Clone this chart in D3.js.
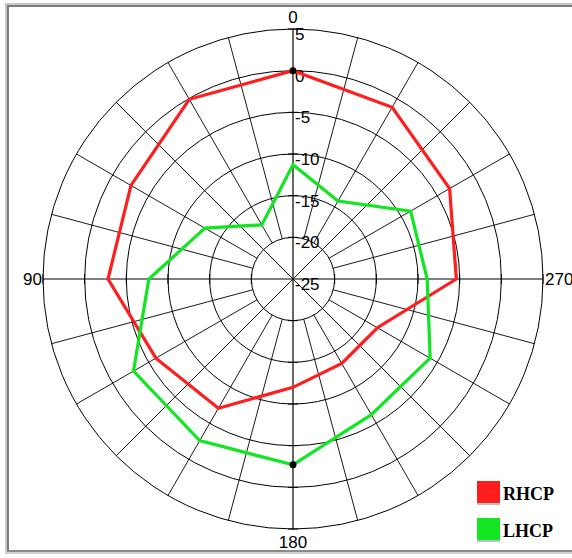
<!DOCTYPE html>
<html>
<head>
<meta charset="utf-8">
<script src="https://cdn.jsdelivr.net/npm/d3@7"></script>
<style>
  html, body { margin: 0; padding: 0; background: #ffffff; }
  svg { display: block; }
</style>
</head>
<body>
<div id="chart"></div>
<script>
// ---- data ----
const angles = [0, 30, 60, 90, 120, 150, 180, 210, 240, 270, 300, 330];
const rhcp = [0.0, -0.1, -2.55, -2.8, -6.0, -7.1, -12.0, -13.3, -13.3, -5.4, -3.3, -1.2];
const lhcp = [-11.3, -17.5, -12.8, -7.7, -2.9, -2.6, -2.7, -6.2, -6.0, -8.9, -8.7, -14.2];
const seriesNames = ["RHCP", "LHCP"];
const seriesColors = ["#ff1e1e", "#12e622"];
const ringValues = [5, 0, -5, -10, -15, -20, -25];
const angleLabels = [0, 90, 180, 270];
const markers = [{ series: "RHCP", angle: 0 }, { series: "LHCP", angle: 180 }];

// ---- layout ----
const W = 572, H = 558;
const cx = 293, cy = 279, R = 250;

const svg = d3.select("#chart").append("svg")
  .attr("width", W).attr("height", H);
svg.append("rect").attr("width", W).attr("height", H).attr("fill", "#fff");

// frame (sunken 3D)
svg.append("rect").attr("x", 5).attr("y", 3).attr("width", 567).attr("height", 2).attr("fill", "#c8c8c8");
svg.append("rect").attr("x", 5).attr("y", 3).attr("width", 2).attr("height", 550).attr("fill", "#c8c8c8");
svg.append("rect").attr("x", 7).attr("y", 5).attr("width", 565).attr("height", 2).attr("fill", "#7c7c7c");
svg.append("rect").attr("x", 7).attr("y", 5).attr("width", 2).attr("height", 545).attr("fill", "#7c7c7c");
svg.append("rect").attr("x", 7).attr("y", 550).attr("width", 565).attr("height", 2).attr("fill", "#8a8a8a");
svg.append("rect").attr("x", 5).attr("y", 552).attr("width", 567).attr("height", 2).attr("fill", "#d0d0d0");

const r = d3.scaleLinear().domain([-25, 5]).range([0, R]);
// angle convention: 0 at top, increasing counter-clockwise
const toRad = a => -a * Math.PI / 180;

const g = svg.append("g").attr("transform", `translate(${cx},${cy})`);

// rings
g.selectAll("circle.ring").data(ringValues.filter(v => v > -25)).enter()
  .append("circle").attr("class", "ring")
  .attr("r", d => r(d)).attr("fill", "none")
  .attr("stroke", "#000").attr("stroke-width", 1);

// spokes
const spokes = d3.range(0, 360, 15);
g.selectAll("line.spoke").data(spokes).enter()
  .append("line").attr("class", "spoke")
  .each(function (a) {
    const inner = (a % 45 === 0) ? 0 : r(-20);
    const t = toRad(a);
    d3.select(this)
      .attr("x1", inner * Math.sin(t)).attr("y1", -inner * Math.cos(t))
      .attr("x2", R * Math.sin(t)).attr("y2", -R * Math.cos(t));
  })
  .attr("stroke", "#000")
  .attr("stroke-width", d => d % 90 === 0 ? 1.2 : 0.9);

// ticks on the main axes at each ring
const tickData = [];
[0, 90, 180, 270].forEach(a => ringValues.filter(v => v > -25).forEach(v => tickData.push({ a, v })));
g.selectAll("line.tick").data(tickData).enter()
  .append("line").attr("class", "tick")
  .each(function (d) {
    const t = toRad(d.a);
    const px = r(d.v) * Math.sin(t), py = -r(d.v) * Math.cos(t);
    const vx = Math.cos(t), vy = Math.sin(t);
    d3.select(this)
      .attr("x1", px - 5 * vx).attr("y1", py - 5 * vy)
      .attr("x2", px + 5 * vx).attr("y2", py + 5 * vy);
  })
  .attr("stroke", "#000").attr("stroke-width", 1);

// ring labels
g.selectAll("text.rl").data(ringValues).enter()
  .append("text").attr("class", "rl")
  .attr("x", 2).attr("y", d => -r(d) + 5)
  .attr("dy", "0.35em")
  .attr("font-family", "Liberation Sans, Arial, sans-serif")
  .attr("font-size", 17).attr("fill", "#000")
  .text(d => d);

// angle labels
const angFont = "Liberation Sans, Arial, sans-serif";
angleLabels.forEach(a => {
  const t = toRad(a);
  let x = (R + 2) * Math.sin(t), y = -(R + 2) * Math.cos(t);
  let anchor = "middle", dy = "0.35em";
  if (a === 0) { y = -R - 6; dy = "0"; }
  if (a === 180) { y = R + 4; dy = "0.9em"; }
  if (a === 90) { anchor = "end"; x = -R - 1; y = 0; }
  if (a === 270) { anchor = "start"; x = R + 2; y = 0; }
  g.append("text").attr("x", x).attr("y", y).attr("dy", dy)
    .attr("text-anchor", anchor)
    .attr("font-family", angFont).attr("font-size", 17).attr("fill", "#000")
    .text(a);
});

// series
const line = d3.lineRadial()
  .angle(d => toRad(d.a))
  .radius(d => r(d.v))
  .curve(d3.curveLinearClosed);

const seriesData = [rhcp, lhcp].map(vals => angles.map((a, i) => ({ a, v: vals[i] })));
seriesData.forEach((data, i) => {
  g.append("path").datum(data)
    .attr("d", line)
    .attr("fill", "none")
    .attr("stroke", seriesColors[i])
    .attr("stroke-width", 3.2)
    .attr("stroke-linejoin", "miter");
});

// markers
markers.forEach(m => {
  const si = seriesNames.indexOf(m.series);
  const vals = si === 0 ? rhcp : lhcp;
  const v = vals[angles.indexOf(m.angle)];
  const t = toRad(m.angle);
  g.append("circle")
    .attr("cx", r(v) * Math.sin(t)).attr("cy", -r(v) * Math.cos(t))
    .attr("r", 3.5).attr("fill", "#000");
});

// legend
const leg = svg.append("g").attr("transform", "translate(477,481)");
seriesNames.forEach((name, i) => {
  const row = leg.append("g").attr("transform", `translate(0,${i * 37})`);
  row.append("rect").attr("x", 0).attr("y", 22).attr("width", 23).attr("height", 2).attr("fill", "#c0c0c0");
  row.append("rect").attr("x", 0).attr("y", 0).attr("width", 23).attr("height", 22).attr("fill", seriesColors[i]);
  row.append("text").attr("x", 26).attr("y", 19)
    .attr("font-family", "Liberation Serif, Times New Roman, serif")
    .attr("font-weight", "bold")
    .attr("font-size", 18).attr("fill", "#000")
    .text(name);
});
</script>
</body>
</html>
